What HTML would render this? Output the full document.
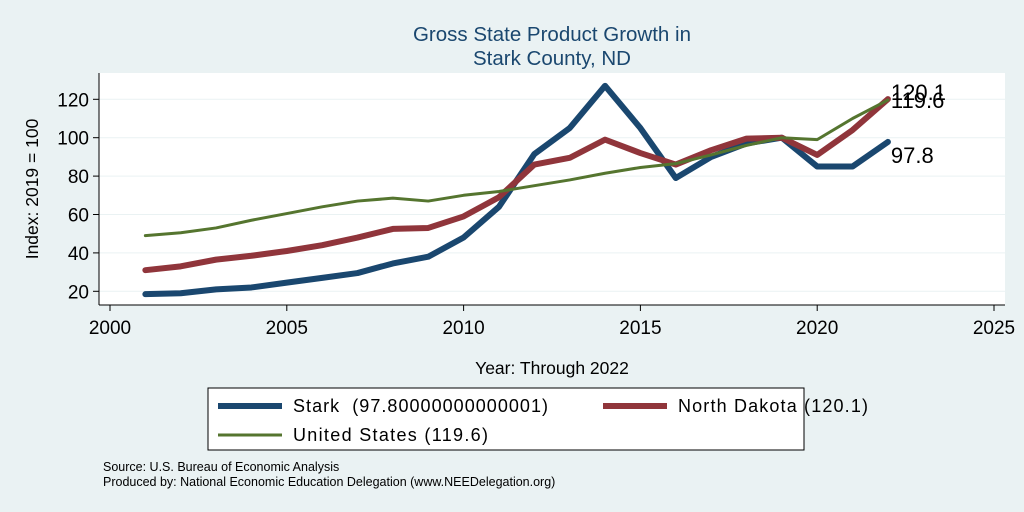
<!DOCTYPE html>
<html><head><meta charset="utf-8"><style>
body{margin:0;background:#eaf2f3;}
svg{display:block;font-family:"Liberation Sans",sans-serif;}
</style></head><body>
<svg width="1024" height="512">
<rect x="0" y="0" width="1024" height="512" fill="#eaf2f3"/>
<g id="title" fill="#1a476f" font-size="20.5" text-anchor="middle">
<text x="552" y="41">Gross State Product Growth in</text>
<text x="552" y="65">Stark County, ND</text>
</g>
<rect x="99" y="73" width="906" height="232" fill="#fff"/>
<g id="grid"></g>
<g id="axes"></g>
<g id="series"></g>
<text x="552" y="374" font-size="17.5" text-anchor="middle">Year: Through 2022</text>
<text transform="translate(38,189) rotate(-90)" font-size="17.5" text-anchor="middle">Index: 2019 = 100</text>
<g>
<rect x="208" y="388" width="596" height="62" fill="#fff" stroke="#000" stroke-width="1"/>
<g><line x1="218" y1="406" x2="282" y2="406" stroke="#1a476f" stroke-width="6"/><text x="293" y="412" font-size="18" textLength="255" xml:space="preserve">Stark  (97.80000000000001)</text></g>
<g><line x1="603" y1="406" x2="667" y2="406" stroke="#90353b" stroke-width="6"/><text x="678" y="412" font-size="18" textLength="190">North Dakota (120.1)</text></g>
<g><line x1="218" y1="435" x2="282" y2="435" stroke="#55752f" stroke-width="3"/><text x="293" y="441" font-size="18" textLength="195">United States (119.6)</text></g>
</g>
<text x="103" y="471" font-size="12.5">Source: U.S. Bureau of Economic Analysis</text>
<text x="103" y="486" font-size="12.5">Produced by: National Economic Education Delegation (www.NEEDelegation.org)</text>
</svg>
<script>
const years=[2001,2002,2003,2004,2005,2006,2007,2008,2009,2010,2011,2012,2013,2014,2015,2016,2017,2018,2019,2020,2021,2022];
const stark=[18.5,19,21,22,24.5,27,29.5,34.5,38,48,64,91.5,105,127,105,79,90,97,100,85,85,97.8];
const nd=[31,33,36.5,38.5,41,44,48,52.5,53,59,69,86,89.5,99,92,86,93.5,99.5,100,91,104,120.1];
const us=[49,50.5,53,57,60.5,64,67,68.5,67,70,72,75,78,81.5,84.5,86.5,91,96,100,99,110,119.6];
const xTicks=[2000,2005,2010,2015,2020,2025];
const yTicks=[20,40,60,80,100,120];
const NS="http://www.w3.org/2000/svg";
const X=v=>110+(v-2000)*(994-110)/25;
const Y=v=>291.3-(v-20)*(291.3-99.3)/100;
function mk(tag,attrs,parent,txt){const e=document.createElementNS(NS,tag);for(const k in attrs)e.setAttribute(k,attrs[k]);if(txt!==undefined)e.textContent=txt;parent.appendChild(e);return e;}
const grid=document.getElementById('grid'),axes=document.getElementById('axes'),ser=document.getElementById('series');
yTicks.forEach(t=>{
 const g=mk('line',{x1:99,x2:1005,y1:Y(t),y2:Y(t),stroke:'#eaf2f3','stroke-width':1},grid);
 
 
 mk('line',{x1:93,x2:99,y1:Y(t),y2:Y(t),stroke:'#000'},axes);
 const l=mk('text',{x:89,y:Y(t)+7,'font-size':19,'text-anchor':'end'},axes,t);
 
 
});
xTicks.forEach(t=>{
 mk('line',{x1:X(t),x2:X(t),y1:305,y2:311,stroke:'#000'},axes);
 const l=mk('text',{x:X(t),y:334,'font-size':19,'text-anchor':'middle'},axes,t);
 
 
});
const ya=mk('line',{x1:99,x2:99,y1:73,y2:305,stroke:'#000'},axes);


const xa=mk('line',{x1:99,x2:1005,y1:305,y2:305,stroke:'#000'},axes);


function line(vals,color,w,name){
 const p=mk('polyline',{points:vals.map((v,i)=>X(years[i])+','+Y(v)).join(' '),fill:'none',stroke:color,'stroke-width':w,'stroke-linejoin':'round','stroke-linecap':'round'},ser);
 
 
}
line(stark,'#1a476f',6,'stark-line');
line(nd,'#90353b',6,'north-dakota-line');
line(us,'#55752f',3,'united-states-line');
const n=years.length-1;
[[stark[n],21,'stark-end-label'],[nd[n],1,'north-dakota-end-label'],[us[n],8,'united-states-end-label']].forEach(([v,dy,name])=>{
 const t=mk('text',{x:X(years[n])+3,y:Y(v)+dy,'font-size':22},ser,v.toFixed(1));
 
 
});
</script>
</body></html>
